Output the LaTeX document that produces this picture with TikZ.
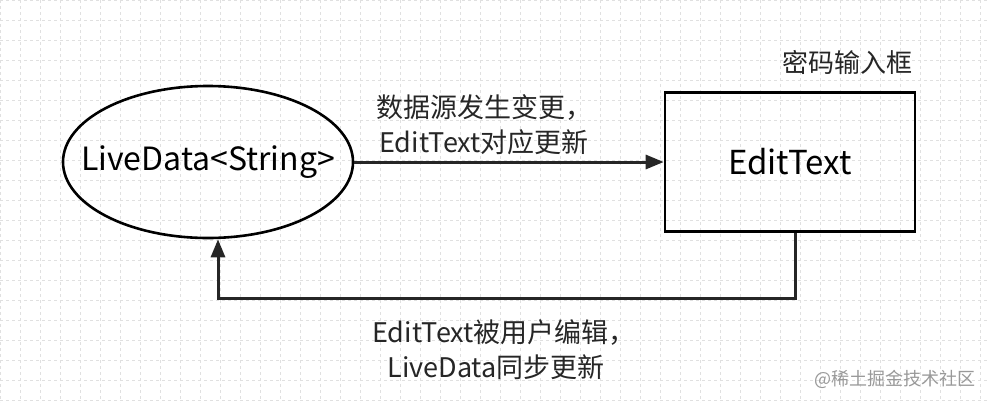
\documentclass[tikz,border=0pt]{standalone}
\usepackage{fontspec}
\setmainfont{Noto Sans CJK SC}
\usetikzlibrary{arrows.meta,shapes.geometric}
\begin{document}
\begin{tikzpicture}[x=1pt,y=-1pt,
  conn/.style={line width=3pt,-{Triangle[length=18pt,width=14pt]},color=black!85},
  lbl/.style={font=\fontsize{27}{30}\selectfont,color=black!85}]
\fill[white] (0,0) rectangle (990,402);
\useasboundingbox (0,0) rectangle (990,402);
\foreach \x in {0,20,...,980} \draw[black!12,dashed,line width=0.6pt] (\x,0) -- (\x,402);
\foreach \y in {0,20,...,400} \draw[black!12,dashed,line width=0.6pt] (0,\y) -- (990,\y);
\node[ellipse,draw,line width=2.6pt,minimum width=290pt,minimum height=152pt,inner xsep=-45pt,inner ysep=0pt,
  font=\fontsize{32}{36}\selectfont] (ld) at (208,162) {LiveData<String>};
\node[draw,line width=2.6pt,minimum width=250pt,minimum height=139pt,inner sep=0pt,
  font=\fontsize{33}{36}\selectfont] (et) at (790,162) {EditText};
\node[lbl,font=\fontsize{26}{30}\selectfont] (title) at (847,62) {密码输入框};
\draw[conn] (ld.east) -- (et.west);
\node[lbl] (t1) at (484,107) {数据源发生变更，};
\node[lbl] (t2) at (484,142) {EditText对应更新};
\coordinate (c1) at (795,298);
\coordinate (c2) at (218,298);
\draw[conn] (et.south -| c1) -- (c1) -- (c2) -- (c2 |- ld.south);
\node[lbl] (b1) at (504,333) {EditText被用户编辑，};
\node[lbl] (b2) at (496,367) {LiveData同步更新};
\node[font=\fontsize{18}{20}\selectfont,color=black!40] (wm) at (895,379) {@稀土掘金技术社区};
\end{tikzpicture}
\end{document}
